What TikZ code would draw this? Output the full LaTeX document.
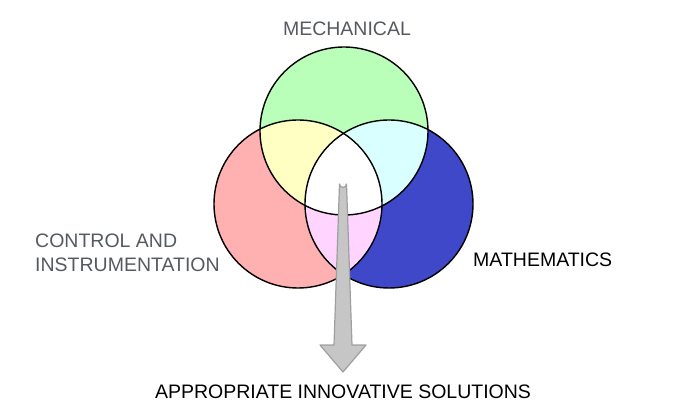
\documentclass[tikz,border=0pt]{standalone}
\usepackage{fontspec}
\setmainfont{Liberation Sans}
\usetikzlibrary{positioning}
\definecolor{mechgreen}{HTML}{B9FFB9}
\definecolor{ctrlred}{HTML}{FFB0B0}
\definecolor{mathblue}{HTML}{3F48C8}
\definecolor{mcyellow}{HTML}{FFFFC4}
\definecolor{mmcyan}{HTML}{D9FFFF}
\definecolor{cmpink}{HTML}{FFD4FF}
\definecolor{lblgray}{HTML}{555A60}

\begin{document}
\begin{tikzpicture}[x=1pt, y=-1pt,
    lbl/.style={font=\fontsize{19.5}{24}\selectfont, inner sep=0pt},
    ring/.style={draw=black, line width=1.4pt},
    bigarrow/.style={fill=gray!45, draw=gray!75, line width=1.2pt, line join=round}]
    \useasboundingbox (0,0) rectangle (681,409);
    \coordinate (mech) at (344,131);
    \coordinate (ctrl) at (298,204);
    \coordinate (math) at (389,204);
    % the three sets
    \fill [mechgreen] (mech) circle (84pt);
    \fill [ctrlred] (ctrl) circle (84pt);
    \fill [mathblue] (math) circle (84pt);
    % overlaps
    \begin{scope}
        \clip (mech) circle (84pt);
        \fill [mcyellow] (ctrl) circle (84pt);
        \fill [mmcyan] (math) circle (84pt);
    \end{scope}
    \begin{scope}
        \clip (ctrl) circle (84pt);
        \fill [cmpink] (math) circle (84pt);
        \clip (math) circle (84pt);
        \fill [white] (mech) circle (84pt);
    \end{scope}
    \draw [ring] (mech) circle (84pt);
    \draw [ring] (ctrl) circle (84pt);
    \draw [ring] (math) circle (84pt);
    % arrow
    \coordinate (tip) at (343,372);
    \draw [bigarrow] (339.5,184) arc [start angle=180, end angle=360, radius=3.5pt]
        -- (352,345) -- (366,345) -- (tip) -- (320,345) -- (334,345) -- cycle;
    % labels
    \node [lbl, text=lblgray] (mechlbl) at (347,29) {MECHANICAL};
    \node [lbl, text=lblgray, align=left, anchor=west] (ctrllbl) at (35,253) {CONTROL AND\\INSTRUMENTATION};
    \node [lbl, anchor=west] (mathlbl) at (473,260) {MATHEMATICS};
    \node [lbl, below=13pt of tip] (sol) {APPROPRIATE INNOVATIVE SOLUTIONS};
\end{tikzpicture}
\end{document}
